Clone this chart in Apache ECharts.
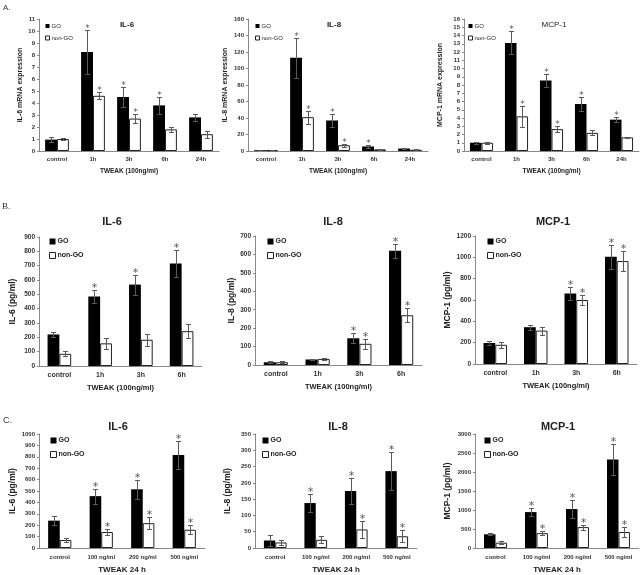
<!DOCTYPE html>
<html>
<head>
<meta charset="utf-8">
<script src="https://cdn.jsdelivr.net/npm/echarts@6/dist/echarts.min.js"></script>
<style>
html,body{margin:0;padding:0;background:#fff;}
#chart{width:641px;height:575px;}
</style>
</head>
<body>
<div id="chart"></div>
<script>
// ---- categories ----
const catsA = ['control', '1h', '3h', '6h', '24h'];
const catsB = ['control', '1h', '3h', '6h'];
const catsC = ['control', '100 ng/ml', '200 ng/ml', '500 ng/ml'];

// ---- y-axis ticks (min / max / interval) ----
const yTicksA1 = [0, 11, 1];
const yTicksA2 = [0, 160, 20];
const yTicksA3 = [0, 16, 1];
const yTicksB1 = [0, 900, 100];
const yTicksB2 = [0, 700, 100];
const yTicksB3 = [0, 1200, 200];
const yTicksC1 = [0, 1000, 100];
const yTicksC2 = [0, 350, 50];
const yTicksC3 = [0, 3000, 500];

// ---- A: mRNA expression ----
const a1GO = [0.95, 8.25, 4.5, 3.8, 2.8];
const a1GOErr = [0.2, 1.85, 0.8, 0.7, 0.3];
const a1Non = [1.0, 4.6, 2.7, 1.8, 1.4];
const a1NonErr = [0.1, 0.3, 0.4, 0.2, 0.3];
const a1GOStar = [0, 1, 1, 1, 0];
const a1NonStar = [0, 1, 1, 0, 0];

const a2GO = [1, 113, 37, 5.5, 3];
const a2GOErr = [0.3, 24, 8, 1.5, 1];
const a2Non = [1, 41, 7, 2, 1.5];
const a2NonErr = [0.3, 8, 2, 0.5, 0.5];
const a2GOStar = [0, 1, 1, 1, 0];
const a2NonStar = [0, 1, 1, 0, 0];

const a3GO = [1.0, 13.1, 8.55, 5.7, 3.8];
const a3GOErr = [0.1, 1.4, 0.75, 0.8, 0.3];
const a3Non = [1.0, 4.2, 2.65, 2.2, 1.65];
const a3NonErr = [0.1, 1.3, 0.4, 0.3, 0.1];
const a3GOStar = [0, 1, 1, 1, 1];
const a3NonStar = [0, 1, 1, 0, 0];

// ---- B: protein, time course ----
const b1GO = [220, 485, 568, 715];
const b1GOErr = [15, 45, 70, 95];
const b1Non = [85, 158, 183, 243];
const b1NonErr = [18, 38, 40, 48];
const b1GOStar = [0, 1, 1, 1];
const b1NonStar = [0, 0, 0, 0];

const b2GO = [15, 30, 145, 620];
const b2GOErr = [4, 5, 28, 38];
const b2Non = [15, 33, 115, 270];
const b2NonErr = [5, 6, 28, 38];
const b2GOStar = [0, 0, 1, 1];
const b2NonStar = [0, 0, 1, 1];

const b3GO = [197, 345, 660, 1005];
const b3GOErr = [22, 22, 60, 110];
const b3Non = [180, 313, 600, 965];
const b3NonErr = [28, 38, 50, 95];
const b3GOStar = [0, 0, 1, 1];
const b3NonStar = [0, 0, 1, 1];

// ---- C: protein, dose ----
const c1GO = [240, 455, 515, 815];
const c1GOErr = [40, 65, 85, 125];
const c1Non = [70, 140, 218, 160];
const c1NonErr = [18, 25, 50, 40];
const c1GOStar = [0, 1, 1, 1];
const c1NonStar = [0, 1, 1, 1];

const c2GO = [23, 138, 175, 236];
const c2GOErr = [16, 27, 40, 58];
const c2Non = [17, 25, 57, 36];
const c2NonErr = [7, 11, 25, 18];
const c2GOStar = [0, 1, 1, 1];
const c2NonStar = [0, 0, 1, 1];

const c3GO = [360, 945, 1025, 2330];
const c3GOErr = [30, 100, 230, 400];
const c3Non = [140, 390, 550, 420];
const c3NonErr = [35, 55, 65, 130];
const c3GOStar = [0, 1, 1, 1];
const c3NonStar = [0, 1, 1, 1];

// ---- panel definitions (layout kept separate from data) ----
const FONT = 'Liberation Sans, Arial, sans-serif';
const panels = [
  {cats: catsA, y: yTicksA1, go: a1GO, goE: a1GOErr, non: a1Non, nonE: a1NonErr, goS: a1GOStar, nonS: a1NonStar,
   title: 'IL-6', yName: 'IL-6 mRNA expression', xName: 'TWEAK (100ng/ml)', row: 'A',
   grid: {left: 39, top: 19, width: 180, height: 132}, yGap: 15, tx: 127, ty: 25, lx: 45, ly: 23},
  {cats: catsA, y: yTicksA2, go: a2GO, goE: a2GOErr, non: a2Non, nonE: a2NonErr, goS: a2GOStar, nonS: a2NonStar,
   title: 'IL-8', yName: 'IL-8 mRNA expression', xName: 'TWEAK (100ng/ml)', row: 'A',
   grid: {left: 248, top: 19, width: 180, height: 132}, yGap: 19, tx: 334, ty: 25, lx: 255, ly: 23},
  {cats: catsA, y: yTicksA3, go: a3GO, goE: a3GOErr, non: a3Non, nonE: a3NonErr, goS: a3GOStar, nonS: a3NonStar,
   title: 'MCP-1', yName: 'MCP-1 mRNA expression', xName: 'TWEAK (100ng/ml)', row: 'A', titleWeight: 'normal',
   grid: {left: 464, top: 19, width: 175, height: 132}, yGap: 20, tx: 554, ty: 25, lx: 468, ly: 23},
  {cats: catsB, y: yTicksB1, go: b1GO, goE: b1GOErr, non: b1Non, nonE: b1NonErr, goS: b1GOStar, nonS: b1NonStar,
   title: 'IL-6', yName: 'IL-6 (pg/ml)', xName: 'TWEAK (100ng/ml)', row: 'B',
   grid: {left: 39, top: 237, width: 163, height: 129}, yGap: 22, tx: 112, ty: 222, lx: 49, ly: 238},
  {cats: catsB, y: yTicksB2, go: b2GO, goE: b2GOErr, non: b2Non, nonE: b2NonErr, goS: b2GOStar, nonS: b2NonStar,
   title: 'IL-8', yName: 'IL-8 (pg/ml)', xName: 'TWEAK (100ng/ml)', row: 'B',
   grid: {left: 255, top: 236, width: 167, height: 129}, yGap: 19, tx: 333, ty: 222, lx: 267, ly: 238},
  {cats: catsB, y: yTicksB3, go: b3GO, goE: b3GOErr, non: b3Non, nonE: b3NonErr, goS: b3GOStar, nonS: b3NonStar,
   title: 'MCP-1', yName: 'MCP-1 (pg/ml)', xName: 'TWEAK (100ng/ml)', row: 'B',
   grid: {left: 475, top: 236, width: 162, height: 128}, yGap: 21, tx: 553, ty: 222, lx: 487, ly: 238},
  {cats: catsC, y: yTicksC1, go: c1GO, goE: c1GOErr, non: c1Non, nonE: c1NonErr, goS: c1GOStar, nonS: c1NonStar,
   title: 'IL-6', yName: 'IL-6 (pg/ml)', xName: 'TWEAK 24 h', row: 'C',
   grid: {left: 39, top: 434, width: 166, height: 115}, yGap: 22, tx: 118, ty: 427, lx: 50, ly: 437},
  {cats: catsC, y: yTicksC2, go: c2GO, goE: c2GOErr, non: c2Non, nonE: c2NonErr, goS: c2GOStar, nonS: c2NonStar,
   title: 'IL-8', yName: 'IL-8 (pg/ml)', xName: 'TWEAK 24 h', row: 'C',
   grid: {left: 255, top: 434, width: 162, height: 115}, yGap: 23, tx: 338, ty: 427, lx: 262, ly: 437},
  {cats: catsC, y: yTicksC3, go: c3GO, goE: c3GOErr, non: c3Non, nonE: c3NonErr, goS: c3GOStar, nonS: c3NonStar,
   title: 'MCP-1', yName: 'MCP-1 (pg/ml)', xName: 'TWEAK 24 h', row: 'C',
   grid: {left: 475, top: 434, width: 164, height: 115}, yGap: 23, tx: 558, ty: 427, lx: 484, ly: 437}
];

const rowStyle = {
  A: {barFrac: 0.33, tick: 6, cat: 6, yName: 7, xName: 6.5, title: 8, legend: 6, star: 9, cap: 2.5, catMargin: 5, xGap: 17, legendIcon: 4, legendGap: 6},
  B: {barFrac: 0.29, tick: 6.5, cat: 7, yName: 8.5, xName: 7.5, title: 11, legend: 7, star: 11, cap: 2.5, catMargin: 6, xGap: 18, legendIcon: 6, legendGap: 7},
  C: {barFrac: 0.28, tick: 6, cat: 6, yName: 8.5, xName: 8, title: 11, legend: 7, star: 11, cap: 2.5, catMargin: 6, xGap: 18, legendIcon: 6, legendGap: 7}
};

function errSeries(gi, vals, errs, stars, side, rs) {
  return {
    type: 'custom', xAxisIndex: gi, yAxisIndex: gi, z: 10, silent: true,
    data: vals.map((v, i) => [i, v - errs[i], v + errs[i], stars[i]]),
    renderItem: function (params, api) {
      const i = api.value(0);
      const lo = api.coord([i, api.value(1)]);
      const hi = api.coord([i, api.value(2)]);
      const band = api.size([1, 0])[0];
      const x = Math.round(lo[0] + side * band * rs.barFrac / 2) + 0.5;
      const ly = Math.round(lo[1]) + 0.5, hy = Math.round(hi[1]) + 0.5;
      const st = {stroke: '#5a5a5a', lineWidth: 1};
      const children = [
        {type: 'line', shape: {x1: x, y1: ly, x2: x, y2: hy}, style: st},
        {type: 'line', shape: {x1: x - rs.cap, y1: hy, x2: x + rs.cap, y2: hy}, style: st},
        {type: 'line', shape: {x1: x - rs.cap, y1: ly, x2: x + rs.cap, y2: ly}, style: st}
      ];
      if (api.value(3)) {
        children.push({type: 'text', style: {text: '*', x: x, y: hy + rs.star * 0.3, align: 'center', verticalAlign: 'bottom',
          fontSize: rs.star, fontFamily: 'DejaVu Sans, sans-serif', fill: '#555'}});
      }
      return {type: 'group', children: children};
    }
  };
}

const grids = [], xAxes = [], yAxes = [], series = [], legends = [], graphics = [];
panels.forEach((p, gi) => {
  const rs = rowStyle[p.row];
  grids.push(Object.assign({containLabel: false}, p.grid));
  xAxes.push({
    type: 'category', gridIndex: gi, data: p.cats,
    name: p.xName, nameLocation: 'middle', nameGap: rs.xGap,
    nameTextStyle: {fontSize: rs.xName, fontWeight: 'bold', color: '#222', fontFamily: FONT},
    axisLine: {lineStyle: {color: '#888', width: 1}},
    axisTick: {show: false},
    axisLabel: {fontSize: rs.cat, fontWeight: 'bold', color: '#333', margin: rs.catMargin, fontFamily: FONT, interval: 0},
    splitLine: {show: false}
  });
  yAxes.push({
    type: 'value', gridIndex: gi, min: p.y[0], max: p.y[1], interval: p.y[2],
    name: p.yName, nameLocation: 'middle', nameGap: p.yGap, nameRotate: 90,
    nameTextStyle: {fontSize: rs.yName, fontWeight: 'bold', color: '#222', fontFamily: FONT},
    axisLine: {show: true, lineStyle: {color: '#888', width: 1}},
    axisTick: {show: true, length: 2, lineStyle: {color: '#888'}},
    axisLabel: {fontSize: rs.tick, fontWeight: 'bold', color: '#333', margin: 4, fontFamily: FONT,
      formatter: v => String(v)},
    splitLine: {show: false}
  });
  series.push({
    name: 'GO', type: 'bar', xAxisIndex: gi, yAxisIndex: gi, data: p.go,
    barWidth: (rs.barFrac * 100) + '%', barGap: '0%',
    itemStyle: {color: '#000'}, silent: true
  });
  series.push({
    name: 'non-GO', type: 'bar', xAxisIndex: gi, yAxisIndex: gi, data: p.non,
    barWidth: (rs.barFrac * 100) + '%', barGap: '0%',
    itemStyle: {color: '#fff', borderColor: '#222', borderWidth: 1}, silent: true
  });
  series.push(errSeries(gi, p.go, p.goE, p.goS, -1, rs));
  series.push(errSeries(gi, p.non, p.nonE, p.nonS, 1, rs));
  legends.push({
    orient: 'vertical', left: p.lx, top: p.ly, selectedMode: false,
    itemWidth: rs.legendIcon, itemHeight: rs.legendIcon, itemGap: rs.legendGap, padding: 0,
    icon: 'rect',
    textStyle: {fontSize: rs.legend, fontWeight: p.row === 'A' ? 'normal' : 'bold', color: '#222', fontFamily: FONT, padding: [0, 0, 0, -3]},
    data: [
      {name: 'GO', itemStyle: {color: '#000', borderWidth: 0}},
      {name: 'non-GO', itemStyle: {color: '#fff', borderColor: '#222', borderWidth: 1}}
    ]
  });
  graphics.push({
    type: 'text', x: p.tx, y: p.ty, silent: true,
    style: {text: p.title, fontSize: rs.title, fontWeight: p.titleWeight || 'bold', fill: '#222', fontFamily: FONT,
      align: 'center', verticalAlign: 'middle'}
  });
});

graphics.push({type: 'text', x: 3, y: 8, style: {text: 'A.', fontSize: 8, fill: '#333', fontFamily: FONT, verticalAlign: 'middle'}});
graphics.push({type: 'text', x: 2, y: 207, style: {text: 'B.', fontSize: 9, fill: '#333', fontFamily: 'Liberation Serif, serif', verticalAlign: 'middle'}});
graphics.push({type: 'text', x: 3, y: 421, style: {text: 'C.', fontSize: 9, fill: '#333', fontFamily: FONT, verticalAlign: 'middle'}});

const chart = echarts.init(document.getElementById('chart'), null, {renderer: 'canvas'});
chart.setOption({
  animation: false,
  backgroundColor: '#fff',
  grid: grids, xAxis: xAxes, yAxis: yAxes, series: series, legend: legends, graphic: graphics
});
</script>
</body>
</html>
